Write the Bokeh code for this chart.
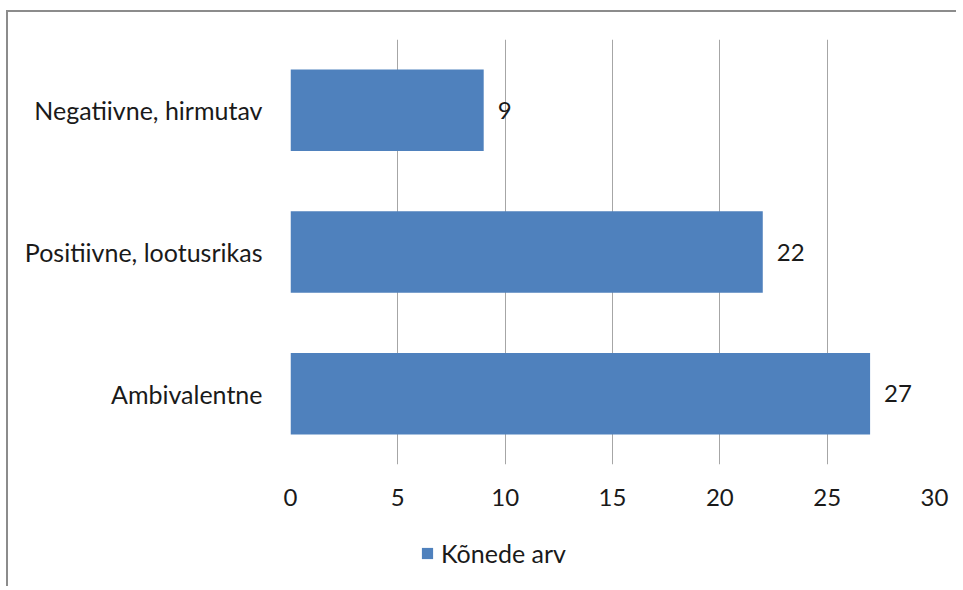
from bokeh.plotting import figure
from bokeh.layouts import column
from bokeh.models import ColumnDataSource, Legend, LegendItem, FactorRange, Range1d, FixedTicker
from bokeh.core.properties import value
from bokeh.embed import file_html
from bokeh.resources import INLINE

categories = ["Ambivalentne", "Positiivne, lootusrikas", "Negatiivne, hirmutav"]
counts = [27, 22, 9]
series_name = "Kõnede arv"
x_ticks = [0, 5, 10, 15, 20, 25, 30]

FONT = "Lato"
FS = "24px"
FS_CAT = "25px"
TXT = "#1a1a1a"
BAR = "#4f81bd"
EDGE = "2px solid #8c8c8c"

src = ColumnDataSource(dict(cat=categories, val=counts, lab=[str(v) for v in counts]))

p = figure(width=950, height=514, output_backend="svg", toolbar_location=None,
           y_range=FactorRange(*categories, range_padding=0), x_range=Range1d(0, 30),
           min_border_left=282, min_border_right=24, min_border_top=27, min_border_bottom=62)
p.outline_line_color = None
p.styles = {"position": "relative", "left": "6px", "top": "10px",
            "border-left": EDGE, "border-top": EDGE}

r = p.hbar(y="cat", right="val", left=0, height=0.575, source=src,
           fill_color=BAR, line_color=None)
p.text(x="val", y="cat", text="lab", source=src, x_offset=14, text_baseline="middle",
       text_align="left", text_font=value(FONT), text_font_size=FS, text_color=TXT)

p.xaxis.ticker = FixedTicker(ticks=x_ticks)
p.xaxis.axis_line_color = None
p.xaxis.major_tick_line_color = None
p.xaxis.minor_tick_line_color = None
p.xaxis.major_label_standoff = 18
p.xaxis.major_label_text_font = FONT
p.xaxis.major_label_text_font_size = FS
p.xaxis.major_label_text_color = TXT

p.yaxis.axis_line_color = None
p.yaxis.major_tick_line_color = None
p.yaxis.major_label_standoff = 22
p.yaxis.major_label_text_font = FONT
p.yaxis.major_label_text_font_size = FS_CAT
p.yaxis.major_label_text_color = TXT

p.xgrid.grid_line_color = "#a6a6a6"
p.xgrid.grid_line_width = 1
p.ygrid.grid_line_color = None

# legend strip under the chart
p2 = figure(width=950, height=62, output_backend="svg", toolbar_location=None,
            x_axis_type=None, y_axis_type=None,
            y_range=FactorRange(series_name), x_range=Range1d(0, 1),
            min_border=0, min_border_left=0, min_border_right=0,
            min_border_top=0, min_border_bottom=0)
p2.outline_line_color = None
p2.grid.grid_line_color = None
p2.styles = {"position": "relative", "left": "6px", "top": "10px", "border-left": EDGE}
r2 = p2.hbar(y=[series_name], right=[0], left=0, height=0.5, fill_color=BAR, line_color=None)

legend = Legend(items=[LegendItem(label=series_name, renderers=[r2])],
                location=(130, 18), glyph_width=14, glyph_height=14,
                label_standoff=7, padding=0, margin=0, border_line_color=None,
                background_fill_alpha=0, label_text_font=FONT,
                label_text_font_size=FS_CAT, label_text_color=TXT)
p2.add_layout(legend, "center")

layout = column(p, p2, spacing=0)
open("out.html", "w").write(file_html(layout, INLINE))
